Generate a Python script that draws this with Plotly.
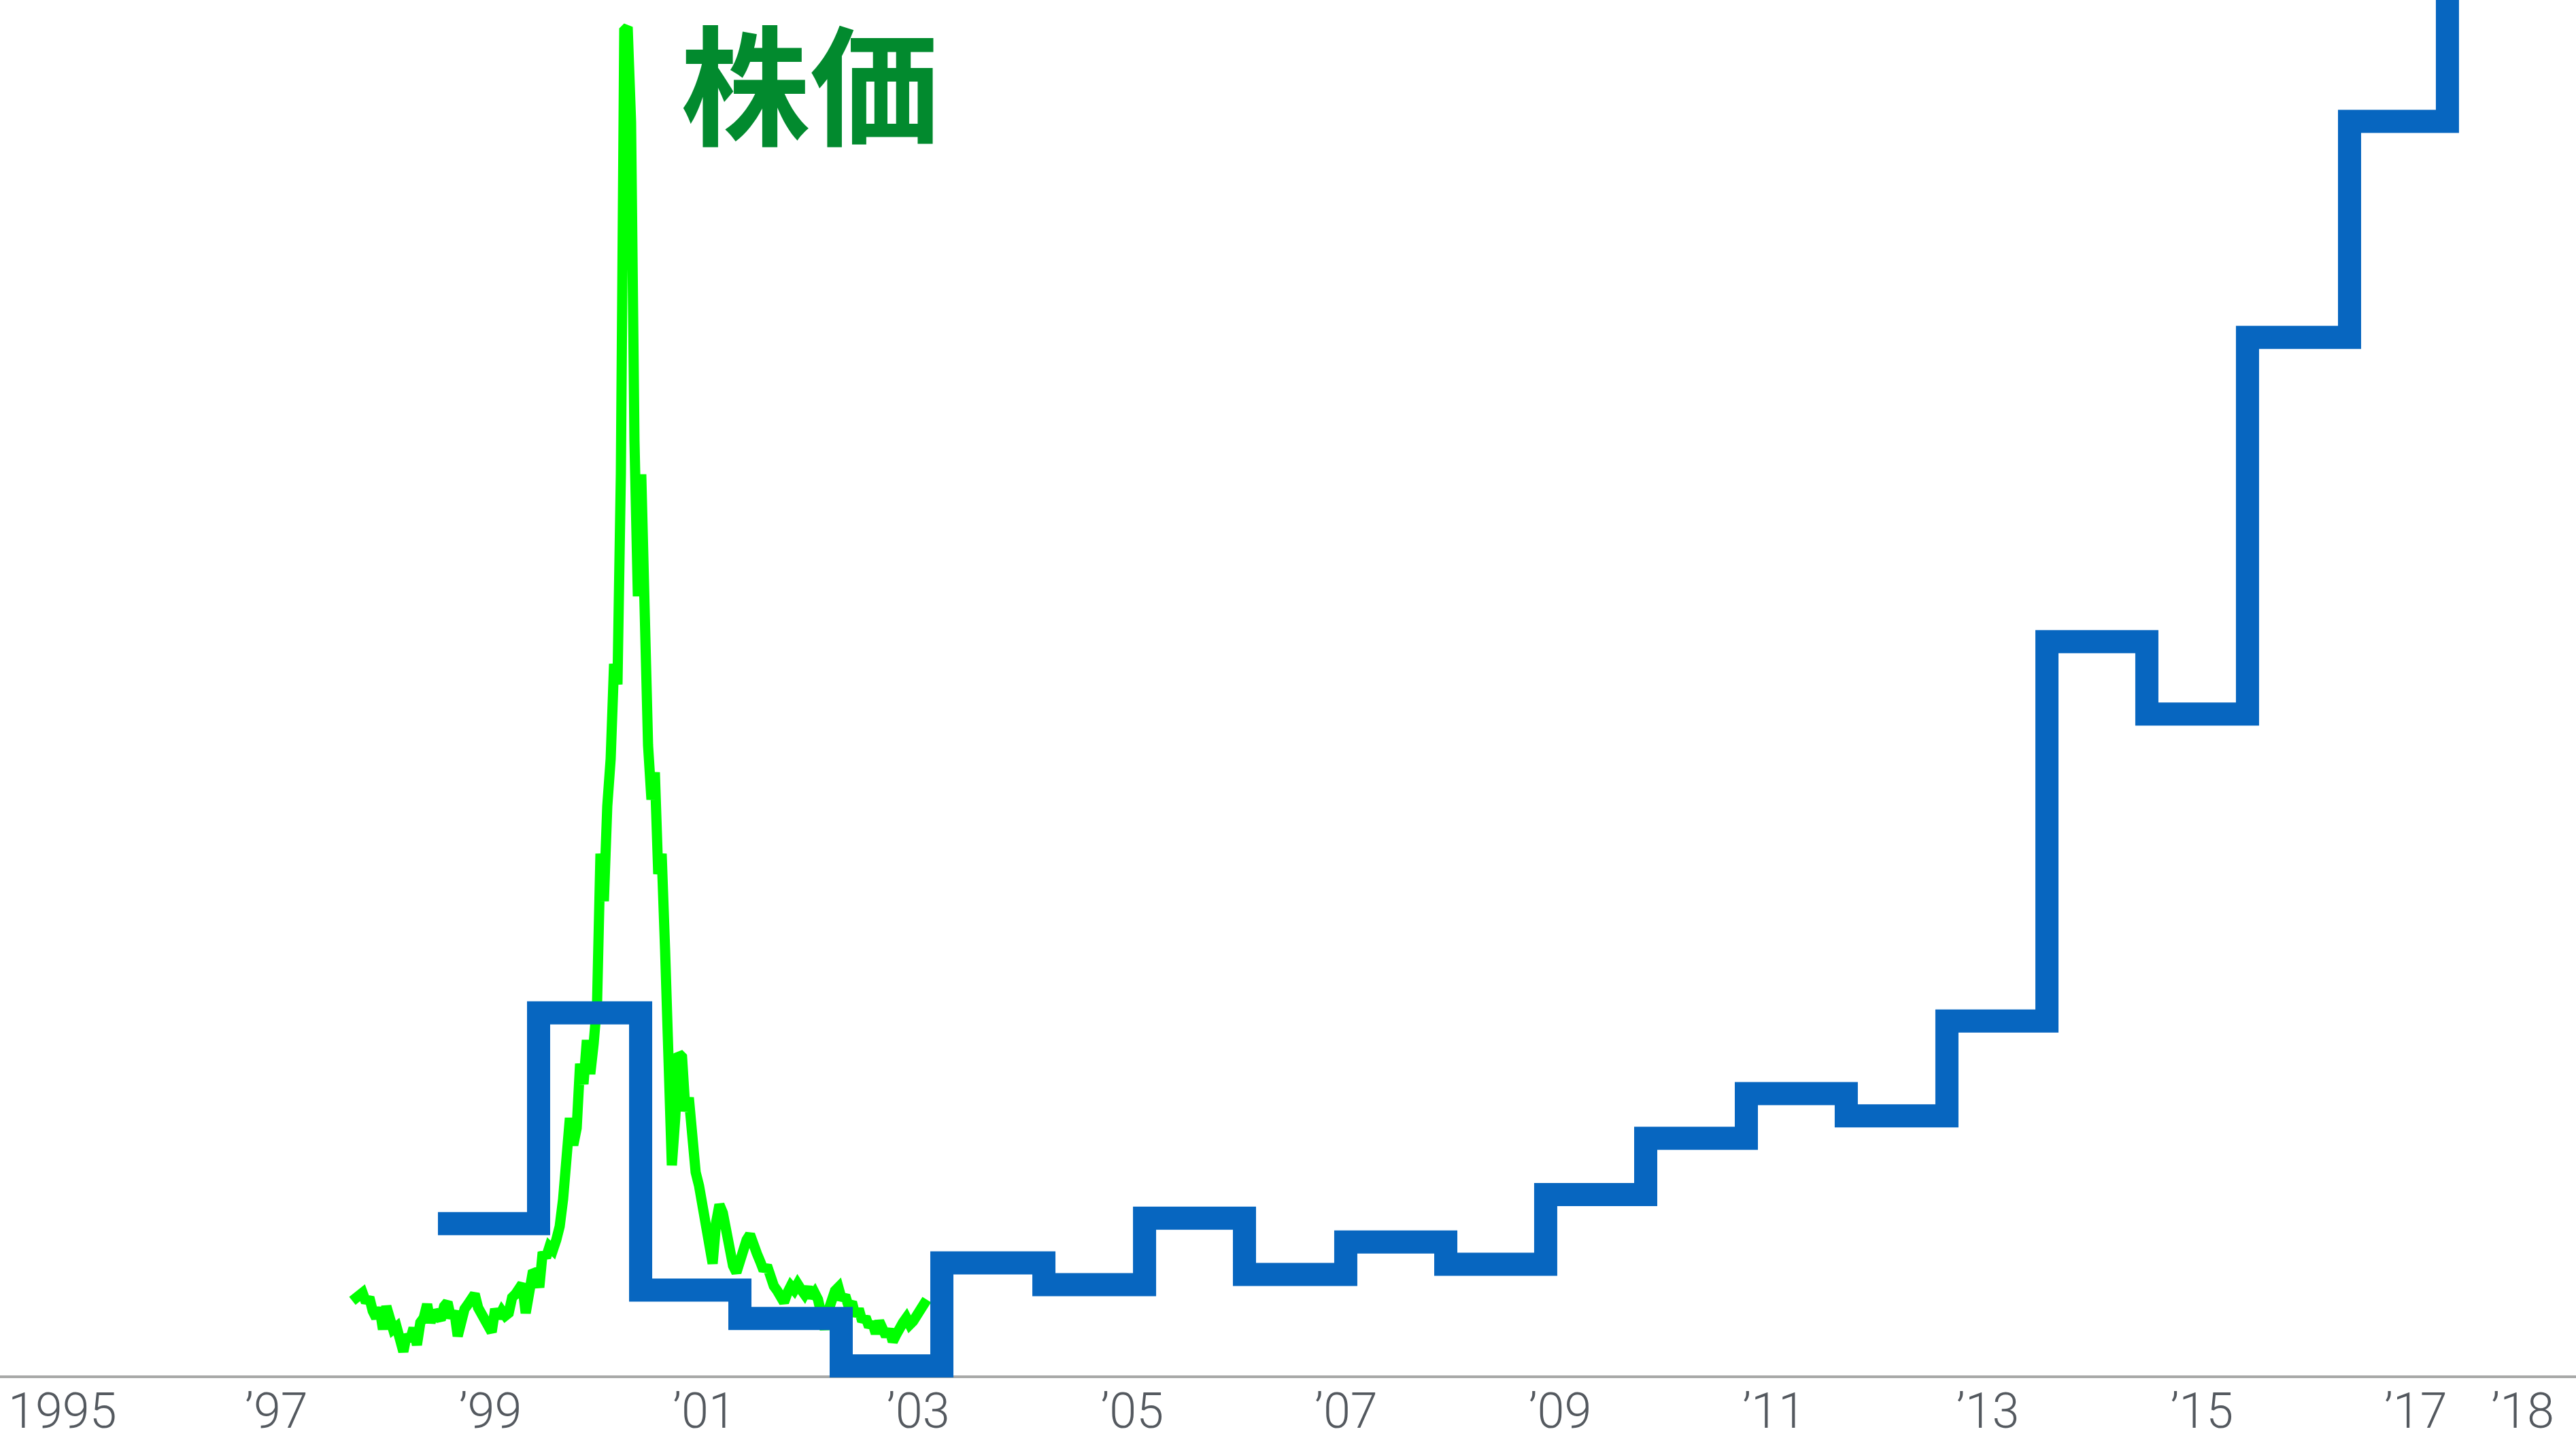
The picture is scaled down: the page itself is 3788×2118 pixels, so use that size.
import numpy as np
import plotly.graph_objects as go

# --- x axis: calendar years -------------------------------------------------
TICK_YEARS = [1995, 1997, 1999, 2001, 2003, 2005, 2007, 2009, 2011, 2013, 2015, 2017, 2018]
TICK_LABELS = ["1995", "’97", "’99", "’01", "’03", "’05", "’07", "’09", "’11", "’13", "’15", "’17", "’18"]
X_RANGE = [1994.416, 2018.498]
Y_RANGE = [0, 2034]

# --- blue step series (start of each period, level held until the next) ----
BLUE_YEARS = [1998.510, 1999.451, 2000.405, 2001.333, 2002.280, 2003.221, 2004.175,
              2005.116, 2006.050, 2006.997, 2007.932, 2008.866, 2009.801, 2010.742,
              2011.676, 2012.617, 2013.552, 2014.486, 2015.427, 2016.381, 2017.296]
BLUE_VALUES = [228, 539, 130, 88, 18, 170, 138, 236, 153, 201, 168, 271, 354, 420,
               387, 527, 1087, 980, 1536, 1855, 2400]

# --- green stock-price series (evenly sampled) ------------------------------
PRICE_START = 1997.71
PRICE_END = 2003.08
PRICE_VALUES = [
    114, 119, 122, 126, 112, 119, 99, 89, 104, 72, 106, 84, 72, 76, 49, 39, 64, 56, 74, 49,
    82, 89, 109, 82, 99, 92, 86, 106, 112, 89, 99, 62, 94, 102, 109, 116, 124, 104, 94, 84,
    72, 68, 102, 89, 99, 92, 96, 119, 124, 131, 139, 96, 129, 154, 156, 134, 186, 178, 194, 189,
    204, 224, 264, 314, 384, 344, 369, 464, 434, 499, 449, 494, 554, 774, 704, 844, 914, 1054, 1024, 1334,
    1989, 1994, 1854, 1384, 1154, 1334, 1034, 934, 854, 894, 744, 774, 634, 504, 314, 384, 479, 474, 394, 414,
    344, 304, 284, 254, 234, 199, 169, 229, 256, 244, 219, 184, 166, 156, 176, 189, 204, 212, 202, 184,
    172, 159, 166, 144, 136, 129, 116, 112, 126, 136, 130, 139, 131, 124, 134, 119, 126, 116, 94, 72,
    99, 116, 129, 134, 116, 122, 106, 112, 92, 102, 84, 90, 76, 82, 66, 84, 72, 62, 72, 54,
    64, 76, 82, 89, 79, 84, 94, 99, 109, 116,
]
PRICE_YEARS = np.linspace(PRICE_START, PRICE_END, len(PRICE_VALUES))

PRICE_LABEL = "株価"

BLUE = "#0766c0"
GREEN = "#00ff00"
LABEL_GREEN = "#028a2e"
AXIS_GREY = "#a8a9a8"
TICK_GREY = "#54595f"

fig = go.Figure()

fig.add_trace(go.Scatter(
    x=PRICE_YEARS, y=PRICE_VALUES, mode="lines",
    line=dict(color=GREEN, width=15),
    hoverinfo="skip", showlegend=False,
))

fig.add_trace(go.Scatter(
    x=BLUE_YEARS, y=BLUE_VALUES, mode="lines",
    line=dict(color=BLUE, width=34, shape="hv"),
    hoverinfo="skip", showlegend=False,
))

# baseline under the series
fig.add_shape(type="line", xref="paper", yref="y", x0=0, x1=1, y0=0.5, y1=0.5,
              line=dict(color=AXIS_GREY, width=7), layer="below")

fig.add_annotation(
    text=PRICE_LABEL, xref="paper", yref="paper",
    x=0.3144, y=0.9425, xanchor="center", yanchor="middle", showarrow=False,
    font=dict(family="Noto Sans CJK JP", size=190, color=LABEL_GREEN, weight=700),
)

fig.update_layout(
    width=3788, height=2118, autosize=False,
    margin=dict(l=0, r=0, t=0, b=84),
    paper_bgcolor="white", plot_bgcolor="white",
    showlegend=False, hovermode=False,
    xaxis=dict(
        range=X_RANGE, tickmode="array", tickvals=TICK_YEARS, ticktext=TICK_LABELS,
        showgrid=False, zeroline=False, showline=False, ticks="",
        tickfont=dict(family="Roboto", size=72, color=TICK_GREY, weight=300),
        fixedrange=True,
    ),
    yaxis=dict(
        range=Y_RANGE, visible=False, showgrid=False, zeroline=False, fixedrange=True,
    ),
)

fig.write_html("out.html", config={"displayModeBar": False, "staticPlot": True})
